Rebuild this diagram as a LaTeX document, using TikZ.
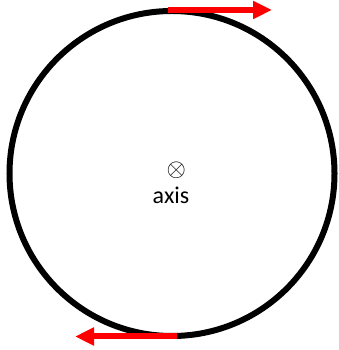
\documentclass[tikz,border=0pt]{standalone}
\usepackage{fontspec}
\setmainfont{Carlito}
\usetikzlibrary{arrows.meta}
\begin{document}
\begin{tikzpicture}[x=1pt,y=1pt,
  ring/.style={line width=6pt,draw=black},
  vel/.style={red,line width=6pt,-{Triangle[length=19pt,width=17pt]}},
  lbl/.style={inner sep=0pt,font=\fontsize{24}{28}\selectfont}]
\useasboundingbox (0,0) rectangle (339,350);
\coordinate (c) at (172,176.5);
\draw[ring] (c) circle[radius=162.5];
\coordinate (ts) at (168,340);
\coordinate (te) at (272,340);
\draw[vel] (ts) -- (te);
\coordinate (bs) at (177,13.5);
\coordinate (be) at (75,13.5);
\draw[vel] (bs) -- (be);
\node[inner sep=0pt,font=\fontsize{27}{30}\selectfont] (ax) at (176.3,179.5) {$\otimes$};
\node[lbl,anchor=base] (t) at (171,146.7) {axis};
\end{tikzpicture}
\end{document}
